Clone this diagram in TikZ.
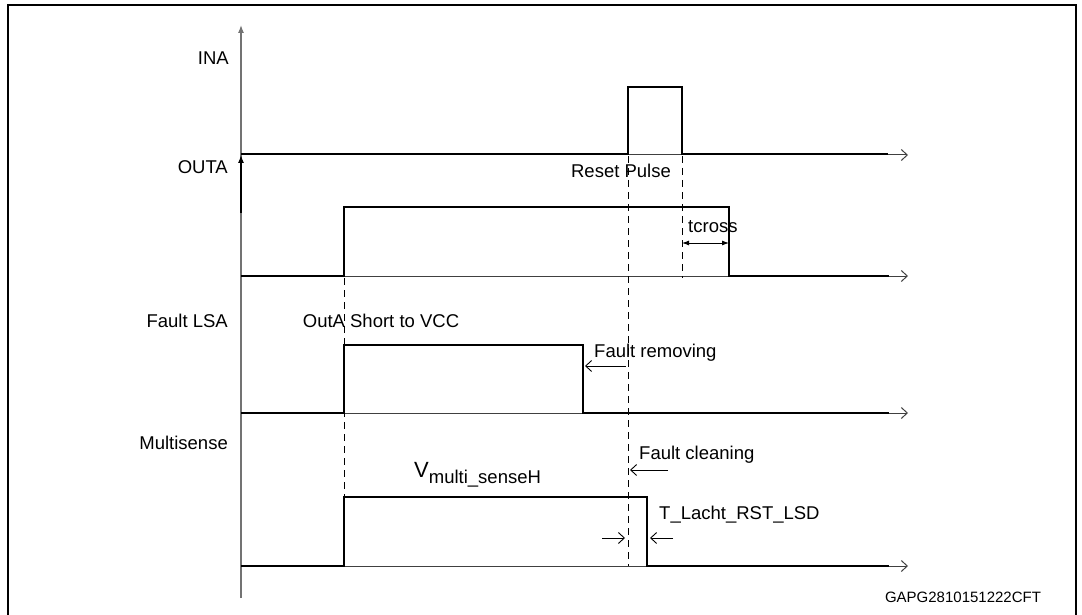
\documentclass[tikz,border=0pt]{standalone}
\usepackage{fontspec}
\setmainfont{Liberation Sans}
\usetikzlibrary{arrows.meta, positioning, calc}

\tikzset{
  signal/.style={line width=2.6pt, line join=miter},
  timeaxis/.style={line width=1pt, draw=black!75, -{Straight Barb[length=6pt, width=11pt]}},
  guide/.style={line width=0.9pt, dash pattern=on 7pt off 5pt},
  label/.style={font=\fontsize{18.5}{21}\selectfont, inner sep=0pt},
  pointer/.style={line width=0.9pt, -{Straight Barb[length=6pt, width=11pt]}}
}

\begin{document}
\begin{tikzpicture}[x=1pt, y=-1pt]
\useasboundingbox (0,0) rectangle (1082,615);

% Frame
\draw[line width=2.8pt] (8,615) -- (8,5) -- (1076,5) -- (1076,615);

% Vertical axes
\draw[line width=1.2pt, draw=black!55, -{Latex[length=8pt, width=6pt]}] (241,598) -- (241,25);
\draw[line width=1.2pt, -{Latex[length=8pt, width=6pt]}] (241,213) -- (241,155);

% Time axes
\foreach \lev in {155, 276, 413, 566}
  \draw[timeaxis] (241,\lev) -- (908,\lev);

% Signal names
\node[label, anchor=east] (ina) at (229,58) {INA};
\node[label, anchor=east] (outa) at (228,167) {OUTA};
\node[label, anchor=east] (faultlsa) at (228,321) {Fault LSA};
\node[label, anchor=east] (multisense) at (228,443) {Multisense};

% Waveforms
\draw[signal] (241,154) -- (628,154) -- (628,87) -- (682,87) -- (682,154) -- (888,154);
\draw[signal] (241,276) -- (344,276) -- (344,207) -- (729,207) -- (729,276) -- (889,276);
\draw[signal] (241,413) -- (344,413) -- (344,345) -- (583,345) -- (583,413) -- (889,413);
\draw[signal] (241,566) -- (344,566) -- (344,497) -- (647,497) -- (647,566) -- (889,566);

% Dashed time marks
\draw[guide] (344,278) -- (344,497);
\draw[guide] (628,156) -- (628,566);
\draw[guide] (682,156) -- (682,278);

% tcross
\coordinate (tc1) at (682,243);
\coordinate (tc2) at (729,243);
\draw[line width=0.9pt, {Latex[length=7pt, width=5pt]}-{Latex[length=7pt, width=5pt]}] (tc1) -- (tc2);
\node[label, anchor=west] (tcross) at (688,227) {tcross};

% Events
\node[label] (reset) at (621,171) {Reset Pulse};
\node[label] (short) at (381,321) {OutA Short to VCC};
\node[label, anchor=west] (removing) at (594,353) {Fault removing};
\coordinate (rm1) at (626,366);
\coordinate (rm2) at (585,366);
\draw[pointer] (rm1) -- (rm2);

\node[label, anchor=west] (cleaning) at (639,455) {Fault cleaning};
\coordinate (cl1) at (668,470);
\coordinate (cl2) at (630,470);
\draw[pointer] (cl1) -- (cl2);

\node[label, anchor=base west] (vhigh) at (414,477)
   {\fontsize{22}{24}\selectfont V\raisebox{-6pt}{\fontsize{18.5}{21}\selectfont multi\_senseH}};

% Latch time
\node[label, anchor=west] (tlatch) at (659,515) {T\_Lacht\_RST\_LSD};
\coordinate (la1) at (602,538);
\coordinate (la2) at (625,538);
\coordinate (lb1) at (673,538);
\coordinate (lb2) at (650,538);
\draw[pointer] (la1) -- (la2);
\draw[pointer] (lb1) -- (lb2);

\node[font=\fontsize{15}{17}\selectfont, inner sep=0pt] (code) at (963,597) {GAPG2810151222CFT};
\end{tikzpicture}
\end{document}
